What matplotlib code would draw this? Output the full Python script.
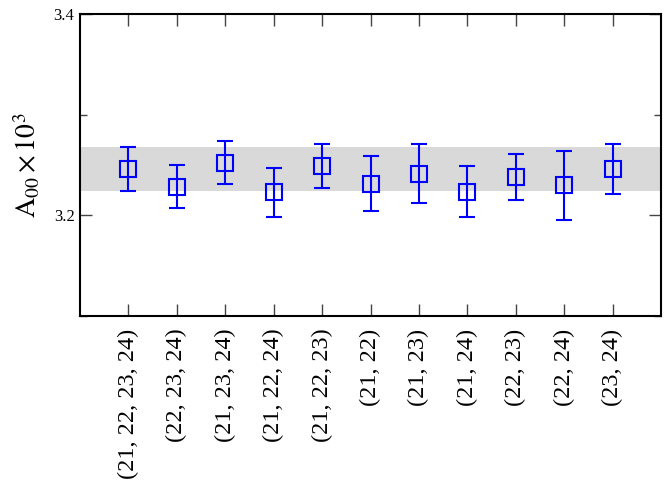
import numpy as np
import matplotlib.pyplot as plt
from matplotlib.ticker import MultipleLocator

plt.rcParams['font.family'] = ['Liberation Serif', 'DejaVu Serif']
plt.rcParams['mathtext.fontset'] = 'stix'

# ensemble combinations and fitted A00 (x 10^3)
labels = ['(21, 22, 23, 24)', '(22, 23, 24)', '(21, 23, 24)', '(21, 22, 24)',
          '(21, 22, 23)', '(21, 22)', '(21, 23)', '(21, 24)', '(22, 23)',
          '(22, 24)', '(23, 24)']
a00 = [3.2461, 3.2285, 3.2524, 3.2234, 3.2489, 3.2315, 3.2414, 3.2236,
       3.2376, 3.2297, 3.2459]
err_up = [3.2679, 3.2500, 3.2739, 3.2474, 3.2712, 3.2593, 3.2709, 3.2491,
          3.2607, 3.2640, 3.2706]
err_lo = [3.2245, 3.2077, 3.2315, 3.1987, 3.2269, 3.2044, 3.2126, 3.1981,
          3.2153, 3.1957, 3.2216]
band_lo, band_hi = 3.2242, 3.2679

x = np.arange(len(labels))
a00 = np.array(a00)
yerr = [a00 - np.array(err_lo), np.array(err_up) - a00]

fig = plt.figure(figsize=(6.68, 4.83), dpi=100)
ax = fig.add_axes([0.1198, 0.3458, 0.8697, 0.6252])

ax.axhspan(band_lo, band_hi, color='#d9d9d9', lw=0, zorder=0)
ax.errorbar(x, a00, yerr=yerr, fmt='s', color='#0000ff', mfc='none',
            mec='#0000ff', ms=11, mew=1.5, elinewidth=1.5, capsize=6,
            capthick=1.5, zorder=3)

ax.set_xlim(-1, 11)
ax.set_ylim(3.1, 3.4)
ax.set_xticks(x)
ax.set_xticklabels(labels, rotation=90, fontsize=17.5)
ax.set_yticks([3.2, 3.4])
ax.set_yticklabels(['3.2', '3.4'], fontsize=12)
ax.yaxis.set_minor_locator(MultipleLocator(0.1))
ax.tick_params(axis='x', direction='in', top=True, length=8.5, width=1,
               color='#444444', pad=9)
ax.tick_params(axis='y', which='major', direction='in', right=True,
               length=8.5, width=1, color='#444444', pad=4)
ax.tick_params(axis='y', which='minor', direction='in', right=True,
               length=5, width=1, color='#444444')
for s in ax.spines.values():
    s.set_linewidth(1.5)

ax.set_ylabel(r'$\mathrm{A}_{00}\times10^{3}$', fontsize=20, labelpad=8)

fig.savefig('out.png', dpi=100)
